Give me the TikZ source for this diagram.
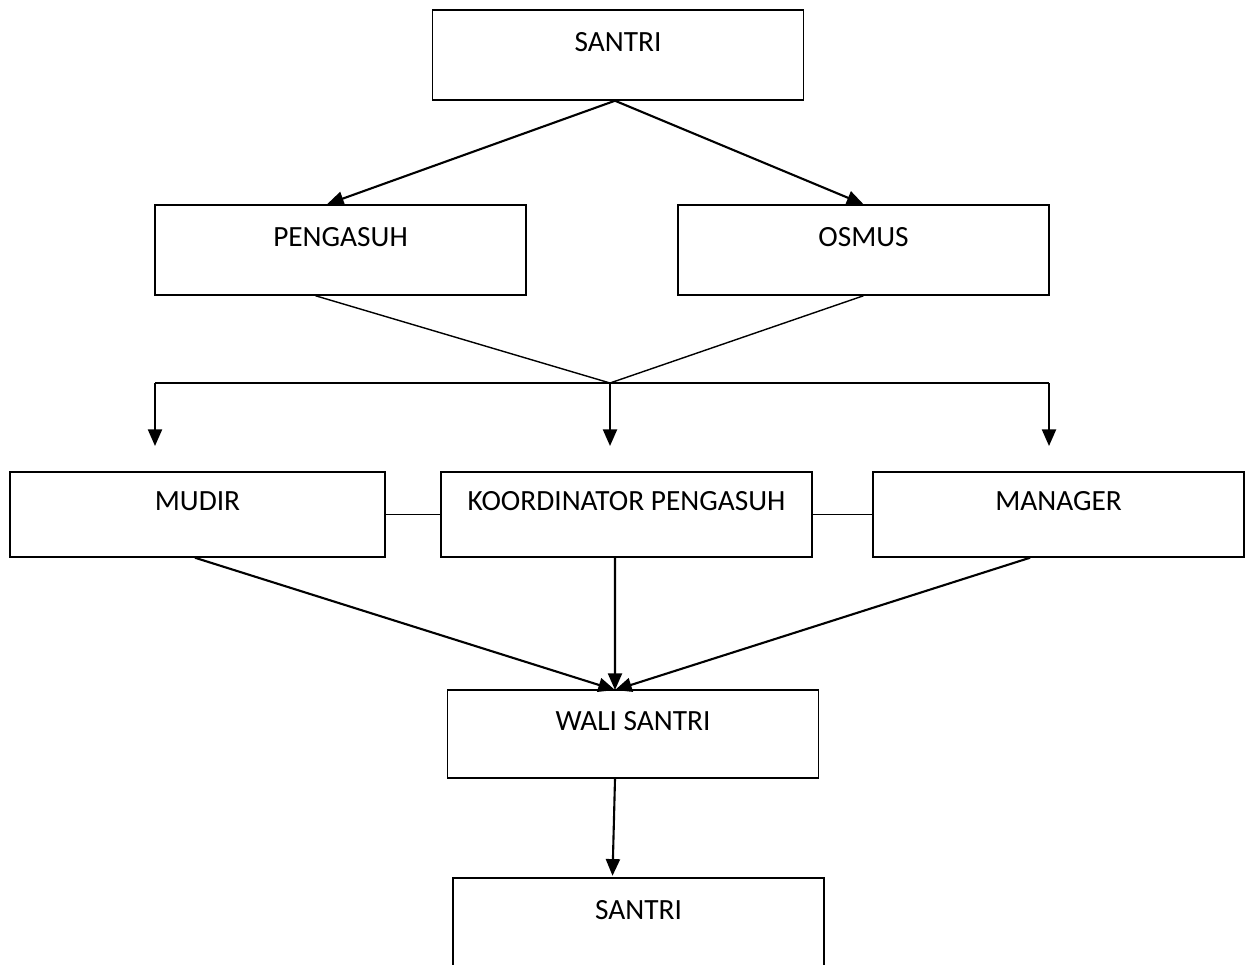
\documentclass[tikz,border=0pt]{standalone}
\usepackage{fontspec}
\setmainfont{Carlito}
\usetikzlibrary{arrows.meta}
\begin{document}
\begin{tikzpicture}[x=0.02cm,y=-0.02cm]
\tikzstyle{kotak}=[draw=black,line width=0.85pt,minimum width=7.42cm,minimum height=1.8cm,inner sep=0pt,text height=0.38cm,text depth=0.54cm,font=\fontsize{16.7}{20}\selectfont]
\tikzstyle{panah}=[line width=1.2pt,-{Triangle[length=9.5pt,width=8pt]}]
\tikzstyle{garis}=[line width=0.8pt]
\path[use as bounding box,clip] (0,0) rectangle (1246,964);
\node [kotak] (santri) at (618,55) {SANTRI};
\node [kotak] (pengasuh) at (340.5,250) {PENGASUH};
\node [kotak] (osmus) at (863.5,250) {OSMUS};
\node [kotak,minimum width=7.5cm,minimum height=1.7cm] (mudir) at (197.5,514.5) {MUDIR};
\node [kotak,minimum height=1.7cm] (koord) at (626.5,514.5) {KOORDINATOR PENGASUH};
\node [kotak,minimum height=1.7cm] (manager) at (1058.5,514.5) {MANAGER};
\node [kotak,minimum height=1.76cm] (wali) at (633,734) {WALI SANTRI};
\node [kotak] (santribawah) at (638.5,923) {SANTRI};
\coordinate (temu) at (610,383);
\coordinate (kiri) at (155,383);
\coordinate (kanan) at (1049,383);
\coordinate (walitop) at (615,690);
\draw [panah] ([xshift=-0.06cm]santri.south) -- ([xshift=-0.27cm]pengasuh.north);
\draw [panah] ([xshift=-0.06cm]santri.south) -- (osmus.north);
\draw [garis] ([xshift=-0.5cm]pengasuh.south) -- (temu) -- (osmus.south);
\draw [garis] (kiri) -- (kanan);
\draw [panah] (kiri) -- ++(0,63);
\draw [panah] (temu) -- ++(0,63);
\draw [panah] (kanan) -- ++(0,63);
\draw [garis] (mudir.east) -- (koord.west);
\draw [garis] (koord.east) -- (manager.west);
\draw [panah] ([xshift=-0.05cm]mudir.south) -- (walitop);
\draw [panah] ([xshift=-0.23cm]koord.south) -- (walitop);
\draw [panah] ([xshift=-0.57cm]manager.south) -- (walitop);
\draw [panah] ([xshift=-0.36cm]wali.south) -- ([xshift=-0.52cm,yshift=0.03cm]santribawah.north);
\end{tikzpicture}
\end{document}
